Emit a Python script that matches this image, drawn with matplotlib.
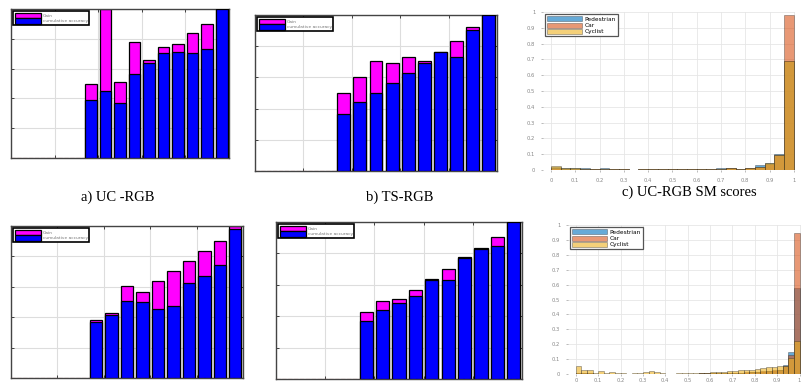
import numpy as np
import matplotlib.pyplot as plt

W, H = 801, 382

# ---- bar panels (magenta = upper, blue = lower, drawn overlaid) ----
a_upper = [0.500, 1.000, 0.507, 0.778, 0.657, 0.742, 0.767, 0.841, 0.901, 1.000]
a_lower = [0.388, 0.448, 0.372, 0.563, 0.639, 0.702, 0.709, 0.702, 0.729, 1.000]
b_upper = [0.497, 0.600, 0.704, 0.690, 0.732, 0.704, 0.764, 0.835, 0.921, 1.000]
b_lower = [0.368, 0.441, 0.503, 0.567, 0.630, 0.692, 0.760, 0.730, 0.904, 1.000]
d_upper = [0.382, 0.430, 0.607, 0.566, 0.640, 0.703, 0.769, 0.834, 0.900, 0.998]
d_lower = [0.367, 0.415, 0.507, 0.498, 0.454, 0.476, 0.622, 0.670, 0.742, 0.983]
e_upper = [0.428, 0.500, 0.511, 0.568, 0.638, 0.702, 0.779, 0.836, 0.904, 1.000]
e_lower = [0.370, 0.440, 0.483, 0.530, 0.632, 0.632, 0.770, 0.828, 0.849, 1.000]
bar_pos = [5.5, 6.5, 7.5, 8.5, 9.5, 10.5, 11.5, 12.5, 13.5, 14.5]
bar_labels = ["Gain", "cumulative accuracy"]

# ---- histogram panels ----
c_edges = np.linspace(0, 1, 26)
c_ped = [0.020, 0.010, 0.010, 0.010, 0.005, 0.010, 0.005, 0.008, 0.000, 0.008, 0.005, 0.008, 0.008,
         0.008, 0.005, 0.008, 0.008, 0.012, 0.015, 0.008, 0.015, 0.030, 0.045, 0.100, 0.690]
c_car = [0.010, 0.008, 0.008, 0.005, 0.005, 0.005, 0.005, 0.005, 0.003, 0.005, 0.005, 0.005, 0.005,
         0.005, 0.005, 0.005, 0.005, 0.008, 0.010, 0.005, 0.010, 0.020, 0.040, 0.095, 0.980]
c_cyc = [0.025, 0.010, 0.010, 0.008, 0.005, 0.008, 0.005, 0.005, 0.003, 0.008, 0.005, 0.005, 0.005,
         0.005, 0.005, 0.005, 0.005, 0.005, 0.012, 0.005, 0.010, 0.020, 0.045, 0.095, 0.690]

f_edges = np.linspace(0, 1, 41)
f_ped = [0.010, 0.005, 0.005, 0.003, 0.003, 0.002, 0.003, 0.002, 0.002, 0.002, 0.002, 0.003, 0.003,
         0.003, 0.002, 0.002, 0.002, 0.002, 0.002, 0.003, 0.003, 0.003, 0.004, 0.005, 0.005, 0.006,
         0.006, 0.008, 0.008, 0.010, 0.010, 0.012, 0.015, 0.015, 0.020, 0.020, 0.030, 0.060, 0.150, 0.578]
f_car = [0.010, 0.005, 0.005, 0.003, 0.003, 0.002, 0.003, 0.002, 0.002, 0.002, 0.002, 0.003, 0.003,
         0.003, 0.002, 0.002, 0.002, 0.002, 0.002, 0.003, 0.003, 0.003, 0.004, 0.005, 0.005, 0.006,
         0.006, 0.008, 0.008, 0.010, 0.012, 0.012, 0.015, 0.018, 0.020, 0.025, 0.030, 0.055, 0.130, 0.945]
f_cyc = [0.055, 0.027, 0.027, 0.005, 0.022, 0.005, 0.015, 0.005, 0.005, 0.003, 0.008, 0.008, 0.012,
         0.022, 0.012, 0.005, 0.003, 0.003, 0.008, 0.005, 0.005, 0.008, 0.010, 0.008, 0.012, 0.015,
         0.015, 0.020, 0.018, 0.025, 0.025, 0.030, 0.035, 0.040, 0.045, 0.045, 0.055, 0.055, 0.110, 0.222]
hist_labels = ["Pedestrian", "Car", "Cyclist"]
hist_colors = ["#0072BD", "#D95319", "#EDB120"]

captions = ["a) UC -RGB", "b) TS-RGB", "c) UC-RGB SM scores"]


def px_axes(fig, l, t, r, b):
    return fig.add_axes([l / W, 1 - b / H, (r - l) / W, (b - t) / H])


def bar_panel(ax, upper, lower):
    ax.bar(bar_pos, upper, width=0.8, color="#FF00FF", edgecolor="black", linewidth=0.9,
           label=bar_labels[0], zorder=2)
    ax.bar(bar_pos, lower, width=0.8, color="#0000FF", edgecolor="black", linewidth=0.9,
           label=bar_labels[1], zorder=3)
    ax.plot([0, 15], [0, 0], color="#c04040", linestyle="--", linewidth=0.8, zorder=4)
    ax.set_xlim(0, 15)
    ax.set_ylim(0, 1)
    ax.set_xticks([0, 3, 6, 9, 12, 15])
    ax.set_yticks([0, 0.2, 0.4, 0.6, 0.8, 1.0])
    ax.set_xticklabels([])
    ax.set_yticklabels([])
    ax.tick_params(direction="in", length=2, width=0.5, top=True, right=True)
    ax.grid(True, color="#dddddd", linewidth=0.8, zorder=0)
    ax.set_axisbelow(True)
    for s in ax.spines.values():
        s.set_color("#444444")
        s.set_linewidth(1.0)
    leg = ax.legend(loc="upper left", fontsize=3.2, handlelength=6, handleheight=1.5,
                    borderpad=0.35, labelspacing=0.0, handletextpad=0.3, fancybox=False,
                    framealpha=1, edgecolor="black", borderaxespad=0.5)
    leg.get_frame().set_linewidth(1.2)
    for t in leg.get_texts():
        t.set_color("#777777")


def hist_panel(ax, edges, series, xlim, xpad):
    widths = np.diff(edges)
    for vals, col, lab in zip(series, hist_colors, hist_labels):
        ax.bar(edges[:-1], vals, width=widths, align="edge", color=col, alpha=0.6,
               edgecolor="#222222", linewidth=0.4, label=lab, zorder=2)
    ax.set_xlim(*xlim)
    ax.set_ylim(0, 1)
    ax.set_xticks(np.round(np.arange(0, 1.01, 0.1), 1))
    ax.set_yticks(np.round(np.arange(0, 1.01, 0.1), 1))
    ax.set_xticklabels(["0", "0.1", "0.2", "0.3", "0.4", "0.5", "0.6", "0.7", "0.8", "0.9", "1"])
    ax.set_yticklabels(["0", "0.1", "0.2", "0.3", "0.4", "0.5", "0.6", "0.7", "0.8", "0.9", "1"])
    ax.tick_params(axis="y", labelsize=3.8, labelcolor="#888888", color="#888888",
                   length=1.5, width=0.4, pad=4)
    ax.tick_params(axis="x", labelsize=3.8, labelcolor="#888888", color="#888888",
                   length=1.5, width=0.4, pad=xpad)
    ax.grid(True, color="#e6e6e6", linewidth=0.6, zorder=0)
    ax.set_axisbelow(True)
    for s in ax.spines.values():
        s.set_visible(False)
    leg = ax.legend(loc="upper left", fontsize=4.2, handlelength=6, handleheight=0.9,
                    borderpad=0.35, labelspacing=0.15, handletextpad=0.4, fancybox=False,
                    framealpha=1, edgecolor="#555555", borderaxespad=0.4)
    leg.get_frame().set_linewidth(0.9)


fig = plt.figure(figsize=(W / 100, H / 100), dpi=100)

ax_a = px_axes(fig, 11, 9, 229, 158)
bar_panel(ax_a, a_upper, a_lower)
ax_b = px_axes(fig, 255, 15, 497, 171)
bar_panel(ax_b, b_upper, b_lower)
ax_c = px_axes(fig, 543, 12, 795, 170)
hist_panel(ax_c, c_edges, [c_ped, c_car, c_cyc], (-0.033, 1.005), 4)

ax_d = px_axes(fig, 11, 226, 243, 378)
bar_panel(ax_d, d_upper, d_lower)
ax_e = px_axes(fig, 276, 222, 522, 379)
bar_panel(ax_e, e_upper, e_lower)
ax_f = px_axes(fig, 568, 225, 804, 374)
hist_panel(ax_f, f_edges, [f_ped, f_car, f_cyc], (-0.035, 1.02), 1.5)

for x, y, txt in zip([118, 400, 689], [197, 197, 192], captions):
    fig.text(x / W, 1 - y / H, txt, ha="center", va="center", fontsize=10.5,
             family="Liberation Serif")

fig.savefig("out.png", dpi=100)
